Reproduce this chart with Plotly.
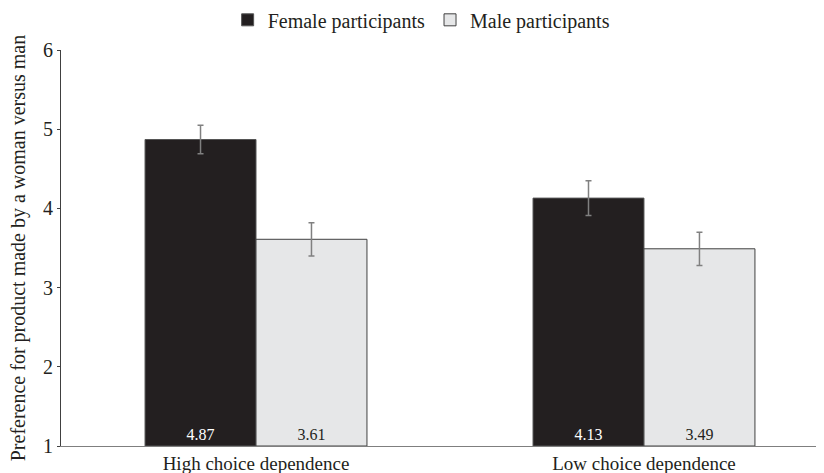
import plotly.graph_objects as go

categories = ["High choice dependence", "Low choice dependence"]
female = [4.87, 4.13]
male = [3.61, 3.49]
female_err = [0.18, 0.22]
male_err = [0.21, 0.21]
female_labels = ["4.87", "4.13"]
male_labels = ["3.61", "3.49"]

font = "Liberation Serif"

fig = go.Figure()
fig.add_trace(go.Bar(
    name="Female participants", x=categories, y=[v - 1 for v in female], base=1,
    marker=dict(color="#231f20", line=dict(color="#555555", width=1)),
    error_y=dict(type="data", array=female_err, color="#808080", thickness=1.5, width=3),
    text=female_labels, textposition="inside", insidetextanchor="start",
    textfont=dict(color="white", size=16, family=font), textangle=0,
))
fig.add_trace(go.Bar(
    name="Male participants", x=categories, y=[v - 1 for v in male], base=1,
    marker=dict(color="#e6e7e8", line=dict(color="#404040", width=1)),
    error_y=dict(type="data", array=male_err, color="#808080", thickness=1.5, width=3),
    text=male_labels, textposition="inside", insidetextanchor="start",
    textfont=dict(color="#231f20", size=16, family=font), textangle=0,
))

fig.update_layout(
    width=824, height=473,
    margin=dict(l=53, r=8, t=42, b=35, autoexpand=False),
    paper_bgcolor="white", plot_bgcolor="white",
    font=dict(family=font, size=20, color="#231f20"),
    barmode="group", bargap=0.428, bargroupgap=0,
    showlegend=True,
    legend=dict(orientation="h", x=0.472, xanchor="center", xref="paper",
                y=0.975, yanchor="middle", yref="container",
                font=dict(size=20, family=font), itemwidth=30, traceorder="normal"),
    uniformtext=dict(mode=False),
    annotations=[dict(
        text="Preference for product made by a woman versus man",
        xref="paper", yref="paper", x=-0.056, y=0.5, textangle=-90,
        showarrow=False, font=dict(size=20, family=font, color="#231f20"),
        xanchor="center", yanchor="middle",
    )],
)
fig.update_xaxes(
    range=[-0.5026, 1.464], showline=True, linecolor="#7f7f7f", linewidth=1,
    ticks="", showgrid=False, tickfont=dict(size=19, family=font), automargin=False,
)
fig.update_yaxes(
    range=[1, 6], dtick=1, showline=True, linecolor="#404040", linewidth=1,
    ticks="outside", ticklen=3, tickcolor="#404040", showgrid=False, zeroline=False,
    tickfont=dict(size=20, family=font), automargin=False,
)

fig.write_html("out.html")
